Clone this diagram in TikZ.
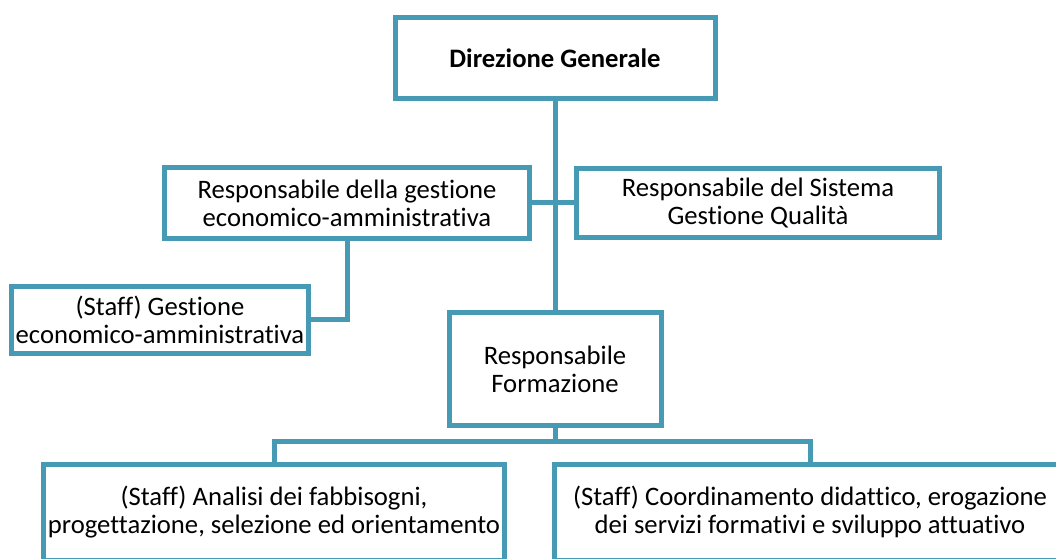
\documentclass[tikz,border=0pt]{standalone}
\usepackage{fontspec}
\setmainfont{Carlito}[Ligatures={NoCommon}]
\usepackage{xcolor}
\definecolor{orgline}{HTML}{479AB4}
\tikzset{x=0.75pt, y=-0.75pt,
 box/.style={draw=orgline, line width=3.75pt, fill=white, rectangle,
  align=center, inner sep=0pt, font=\fontsize{20}{21}\selectfont},
 link/.style={draw=orgline, line width=3.75pt},
 }

\begin{document}
\begin{tikzpicture}
        \useasboundingbox (0,0) rectangle (1056,559);
        \clip (0,0) rectangle (1056,559);

        \node[box, minimum width=240pt, minimum height=61pt, font=\fontsize{20}{21}\selectfont\bfseries] (dir) at (555,58) {Direzione Generale};
        \node[box, minimum width=274pt, minimum height=53pt] (respamm) at (347,203) {Responsabile della gestione\\economico-amministrativa};
        \node[box, minimum width=272pt, minimum height=52pt] (respqual) at (758,203) {Responsabile del Sistema\\Gestione Qualità};
        \node[box, minimum width=223pt, minimum height=50pt] (staffamm) at (160,320) {(Staff) Gestione\\economico-amministrativa};
        \node[box, minimum width=159pt, minimum height=84pt] (respform) at (555,369) {Responsabile\\Formazione};
        \node[box, minimum width=346pt, minimum height=72pt] (staffanal) at (274,512) {(Staff) Analisi dei fabbisogni,\\progettazione, selezione ed orientamento};
        \node[box, minimum width=384pt, minimum height=72pt] (staffcoord) at (810,512) {(Staff) Coordinamento didattico, erogazione\\dei servizi formativi e sviluppo attuativo};

        \coordinate (bus) at (555,441);

        \draw[link] (dir.south) -- (respform.north);
        \draw[link] (respamm.east) -- (respqual.west);
        \draw[link] (respamm.south) |- (staffamm.east);
        \draw[link] (respform.south) -- (bus);
        \draw[link] (staffanal.north) |- (bus) -| (staffcoord.north);
    \end{tikzpicture}
\end{document}
